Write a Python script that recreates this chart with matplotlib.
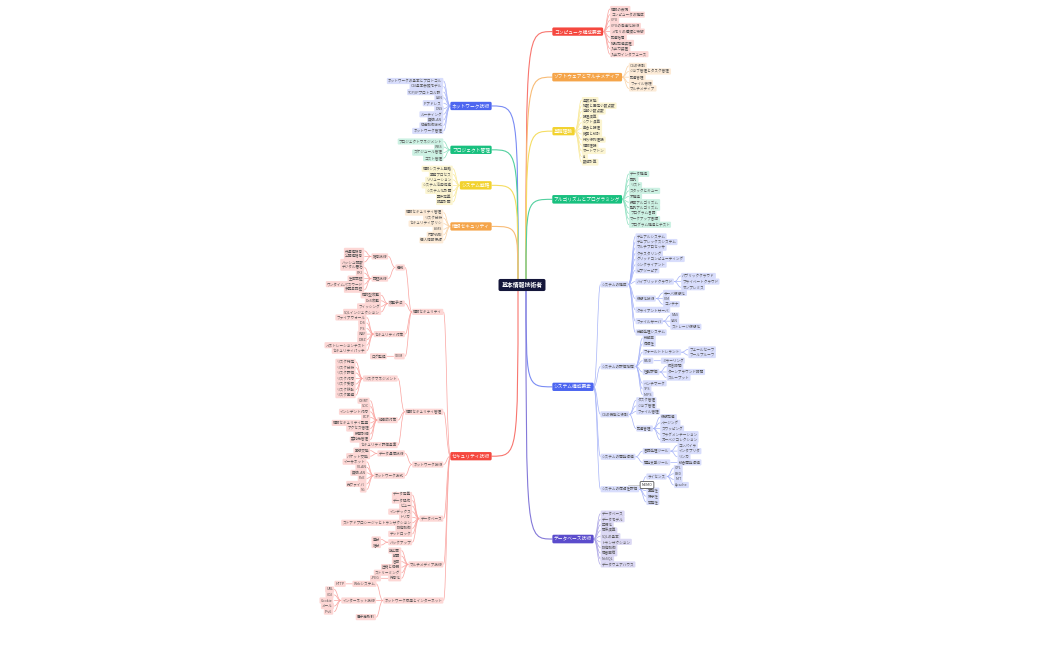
import matplotlib
matplotlib.use("Agg")
from matplotlib import pyplot as plt
from matplotlib.path import Path
from matplotlib.patches import PathPatch
import matplotlib.colors as mcolors

plt.rcParams['font.family'] = ['Noto Sans CJK JP', 'DejaVu Sans']

ROOT = "基本情報技術者"

# right side branches
computer = ["情報の表現", "コンピュータの構成", "CPU", "CPUの高速化技術", "メモリの種類と特徴",
            "記憶階層", "補助記憶装置", "入出力装置", "入出力インタフェース"]
software = ["OSの役割", "ジョブ管理とタスク管理", "記憶管理", "ファイル管理", "マルチメディア"]
basics = ["基数変換", "補数と固定小数点数", "浮動小数点数", "論理演算", "シフト演算", "集合と論理",
          "確率と統計", "待ち行列理論", "情報理論", "オートマトン", "AI", "数値計算"]
algorithm = ["データ構造", "配列", "リスト", "スタックとキュー", "木構造", "探索アルゴリズム",
             "整列アルゴリズム", "プログラム言語", "マークアップ言語", "プログラム構造とテスト"]
system = [
    ("システムの構成", ["デュアルシステム", "デュプレックスシステム", "マルチプロセッサ",
                      "クラスタリング", "グリッドコンピューティング", "シンクライアント", "ピアツーピア",
                      ("ハイブリッドクラウド", ["パブリッククラウド", "プライベートクラウド", "オンプレミス"]),
                      ("仮想化技術", ["サーバ仮想化", "VM", "コンテナ"]),
                      "クライアントサーバ",
                      ("ファイルサーバ", ["NAS", "SAN", "ストレージ仮想化"]),
                      "分散処理システム"]),
    ("システムの評価指標", ["稼働率", "信頼性",
                         ("フォールトトレラント", ["フェールセーフ", "フールプルーフ"]),
                         ("RAID", ["ミラーリング"]),
                         ("性能評価", ["応答時間", "ターンアラウンド時間", "スループット"]),
                         "ベンチマーク", "TPS", "MIPS"]),
    ("OSの機能と役割", ["タスク管理", "ジョブ管理", "ファイル管理",
                     ("記憶管理", ["仮想記憶", "ページング", "スワッピング", "フラグメンテーション", "ガーベジコレクション"])]),
    ("システムの開発環境", [("言語処理ツール", ["コンパイラ", "インタプリタ", "リンカ"]),
                        ("開発支援ツール", ["統合開発環境"])]),
    ("システムの信頼性評価", [("ライセンス", ["GPL", "BSD", "MIT", "Apache"]), "互換性", "保守性", "可用性"]),
]
database = ["データベース", "データモデル", "正規化", "関係演算", "SQLの基本", "トランザクション",
            "排他制御", "障害回復", "NoSQL", "データウェアハウス"]

# left side branches
network = ["ネットワークの基本とプロトコル", "OSI基本参照モデル", "TCP/IPプロトコル群", "LAN",
           "IPアドレス", "DNS", "ルーティング", "無線LAN", "伝送制御方式", "ネットワーク管理"]
project = ["プロジェクトマネジメント", "WBS", "スケジュール管理", "コスト管理"]
strategy = ["情報システム戦略", "業務プロセス", "ソリューション", "システム活用促進",
            "システム化計画", "要件定義", "調達計画"]
secmgmt = ["情報セキュリティ管理", "リスク分析", "セキュリティポリシ", "ISMS", "内部統制", "個人情報保護"]
security = [
    ("情報セキュリティ", [("脅威", [("暗号技術", ["共通鍵暗号", "公開鍵暗号", "ハッシュ関数"]),
                              ("認証技術", ["デジタル署名", "PKI", "生体認証", "ワンタイムパスワード", "多要素認証"])]),
                       ("攻撃手法", ["標的型攻撃", "DoS攻撃", "フィッシング", "SQLインジェクション"]),
                       ("セキュリティ対策", ["ファイアウォール", "IDS", "IPS", "WAF", "DMZ",
                                        "ペネトレーションテスト", "セキュリティパッチ"]),
                       ("SIEM", ["ログ監視"])]),
    ("情報セキュリティ管理", [("リスクマネジメント", ["リスク特定", "リスク分析", "リスク評価", "リスク対応",
                                           "リスク受容", "リスク移転", "リスク回避"]),
                           ("組織的対策", ["CSIRT", "SOC", "インシデント対応", "BCP", "情報セキュリティ監査",
                                      "アクセス管理", "教育訓練", "委託先管理"]),
                           "セキュリティ評価基準"]),
    ("ネットワーク技術", [("データ通信技術", ["回線交換", "パケット交換"]),
                       ("ネットワーク方式", ["イーサネット", "VLAN", "無線LAN", "PoE", "光ファイバ", "5G"])]),
    ("データベース", ["データ定義", "データ操作", "ビュー", "インデックス", "トリガ",
                   ("ストアドプロシージャとトランザクション", []),
                   "排他制御", "デッドロック", ("バックアップ", ["差分", "増分"])]),
    ("マルチメディア技術", ["静止画", "動画", "音声", "圧縮と伸張", "ストリーミング", ("符号化", ["JPEG"])]),
    ("ネットワーク応用とインターネット", [("Webシステム", ["HTTP"]),
                                   ("インターネット技術", ["URL", "CGI", "Cookie", "メール", "IPv6"]),
                                   "電子商取引"]),
]

right_branches = [("コンピュータ構成要素", computer, "#f5483f"),
                  ("ソフトウェアとマルチメディア", software, "#f5a54a"),
                  ("基礎理論", basics, "#f2d22e"),
                  ("アルゴリズムとプログラミング", algorithm, "#19c07f"),
                  ("システム構成要素", system, "#4d66f0"),
                  ("データベース技術", database, "#5b4ccc")]
left_branches = [("ネットワーク技術", network, "#4d66f0"),
                 ("プロジェクト管理", project, "#19c07f"),
                 ("システム戦略", strategy, "#f2d22e"),
                 ("情報セキュリティ", secmgmt, "#f5a54a"),
                 ("セキュリティ技術", security, "#f5483f")]

FS_LEAF = 2.6
FS_MAIN = 3.4
PX = 100 / 72


def text_w(s, fs):
    em = fs * PX
    return sum(em if ord(c) > 0x2E80 else em * 0.6 for c in s) + 2 * 0.35 * em


def tint(c, a):
    r, g, b = mcolors.to_rgb(c)
    return (1 - a + a * r, 1 - a + a * g, 1 - a + a * b)


fig = plt.figure(figsize=(10.5, 6.5), dpi=100)
ax = fig.add_axes([0, 0, 1, 1])
ax.set_xlim(0, 1050)
ax.set_ylim(650, 0)
ax.axis('off')


class Cursor:
    def __init__(self, y, row):
        self.y = y
        self.row = row


def norm(n):
    return n if isinstance(n, tuple) else (n, [])


def layout(node, edge, side, cur, color, out, depth):
    label, kids = norm(node)
    w = text_w(label, FS_LEAF)
    far = edge + side * w
    ys = []
    for k in kids:
        ys.append(layout(k, far + side * 7, side, cur, color, out, depth + 1))
    if ys:
        y = (ys[0] + ys[-1]) / 2
    else:
        y = cur.y
        cur.y += cur.row
    out.append((label, edge, far, y, color, depth, [c for c in ys]))
    return y


def line(x0, y0, x1, y1, color, lw=0.5):
    mx = x1 - (x1 - x0) * 0.45
    verts = [(x0, y0), (mx, y0), (mx, y0), (mx, y0 + (y1 - y0) * 0.5),
             (mx, y1), (mx, y1), (x1, y1)]
    codes = [Path.MOVETO, Path.LINETO, Path.CURVE3, Path.CURVE3, Path.LINETO, Path.CURVE3, Path.CURVE3]
    verts = [(x0, y0), (mx, y0), (mx, y1), (x1, y1)]
    codes = [Path.MOVETO, Path.CURVE4, Path.CURVE4, Path.CURVE4]
    ax.add_patch(PathPatch(Path(verts, codes), fill=False, ec=color, lw=lw, zorder=1))


root_x, root_y = 522, 285
root_w = text_w(ROOT, FS_MAIN + 0.8)


def draw_side(branches, side, y0, row, gap):
    cur = Cursor(y0, row)
    for name, kids, color in branches:
        mw = text_w(name, FS_MAIN)
        edge = root_x + side * (root_w / 2 + 8)
        far = edge + side * mw
        out = []
        ys = [layout(k, far + side * 7, side, cur, color, out, 2) for k in kids]
        by = (ys[0] + ys[-1]) / 2
        cur.y += gap
        # root connection
        sx = root_x + side * 4
        verts = [(sx, root_y), (sx, by), (sx, by), (edge, by)]
        ax.add_patch(PathPatch(Path(verts, [Path.MOVETO, Path.CURVE4, Path.CURVE4, Path.CURVE4]),
                               fill=False, ec=tint(color, 0.75), lw=0.8, zorder=1))
        ax.text((edge + far) / 2, by, name, fontsize=FS_MAIN, color='white', ha='center', va='center',
                zorder=3, bbox=dict(boxstyle='round,pad=0.35,rounding_size=0.3', fc=color, ec='none'))
        for y in ys:
            line(far, by, far + side * 7, y, tint(color, 0.5))
        for label, e, f, y, c, depth, cys in out:
            ax.text((e + f) / 2, y, label, fontsize=FS_LEAF, color='#555555', ha='center', va='center',
                    zorder=3, bbox=dict(boxstyle='round,pad=0.3,rounding_size=0.3', fc=tint(c, 0.22), ec='none'))
            for cy in cys:
                line(f, y, f + side * 7, cy, tint(c, 0.5))


draw_side(right_branches, 1, 9, 5.65, 6)
draw_side(left_branches, -1, 81, 5.55, 5)

ax.text(root_x, root_y, ROOT, fontsize=FS_MAIN + 0.8, color='white', ha='center', va='center',
        fontweight='bold', zorder=4,
        bbox=dict(boxstyle='round,pad=0.5,rounding_size=0.3', fc='#14163a', ec='none'))

# memo note
ax.text(647, 485, "MEMO", fontsize=FS_LEAF, color='#333333', ha='center', va='center', zorder=3,
        bbox=dict(boxstyle='round,pad=0.4,rounding_size=0.3', fc='white', ec='#333333', lw=0.5))
ax.plot([640, 628], [485, 485], color='#aaaaaa', lw=0.4)

fig.savefig("out.png", dpi=100, facecolor='white')
